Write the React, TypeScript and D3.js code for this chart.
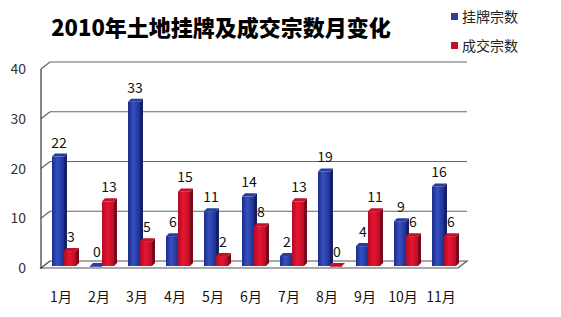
import React from "react";
import * as d3 from "d3";

const months = ["1月", "2月", "3月", "4月", "5月", "6月", "7月", "8月", "9月", "10月", "11月"];
const listed = [22, 0, 33, 6, 11, 14, 2, 19, 4, 9, 16];
const traded = [3, 13, 5, 15, 2, 8, 13, 0, 11, 6, 6];
const yTicks = [0, 10, 20, 30, 40];
const seriesNames = ["挂牌宗数", "成交宗数"];

const W = 561, H = 317;
const DX = 9, DY = 7; // wall depth
const BD = 3; // bar depth

export default function App() {
  const yFront = d3.scaleLinear().domain([0, 40]).range([266, 67]);
  const yBack = d3.scaleLinear().domain([0, 40]).range([261, 62]);
  const x = d3.scaleBand().domain(months).range([45, 45 + 11 * 38]).paddingInner(0).paddingOuter(0);
  const bw = 12;
  const axisX = 41;
  const backRight = 467;
  const font = "'Noto Sans CJK SC', 'Noto Sans', sans-serif";

  const bar = (key: string, xl: number, v: number, grad: string, side: string, top: string) => {
    const y0 = yFront(0);
    const yt = yFront(v);
    const h = y0 - yt;
    return (
      <g key={key}>
        <path d={`M${xl + bw},${y0} L${xl + bw + BD},${y0 - BD} L${xl + bw + BD},${yt - BD} L${xl + bw},${yt} Z`} fill={side} />
        <path d={`M${xl},${yt} L${xl + BD},${yt - BD} L${xl + bw + BD},${yt - BD} L${xl + bw},${yt} Z`} fill={top} />
        <rect x={xl} y={yt} width={bw} height={Math.max(h, 0.8)} fill={`url(#${grad})`} />
      </g>
    );
  };

  return (
    <svg width={W} height={H} style={{ position: "absolute", left: 0, top: 0, background: "#fff" }}>
      <defs>
        <linearGradient id="gb" x1="0" x2="1" y1="0" y2="0">
          <stop offset="0" stopColor="#1c2d8c" />
          <stop offset="0.45" stopColor="#3550c0" />
          <stop offset="1" stopColor="#1e2f90" />
        </linearGradient>
        <linearGradient id="gr" x1="0" x2="1" y1="0" y2="0">
          <stop offset="0" stopColor="#b00c24" />
          <stop offset="0.45" stopColor="#e81432" />
          <stop offset="1" stopColor="#b80d26" />
        </linearGradient>
      </defs>
      <rect width={W} height={H} fill="#fff" />
      <text x={221} y={36} textAnchor="middle" fontFamily={font} fontWeight="900" fontSize={22} fill="#000">
        2010年土地挂牌及成交宗数月变化
      </text>
      {/* legend */}
      <rect x={451} y={13} width={7} height={7} fill="#2e3f9e" />
      <text x={462} y={22} fontFamily={font} fontSize={14} fill="#222">{seriesNames[0]}</text>
      <rect x={451} y={42} width={7} height={7} fill="#c0102a" />
      <text x={462} y={51} fontFamily={font} fontSize={14} fill="#222">{seriesNames[1]}</text>

      {/* grid on back wall */}
      {yTicks.map((t) => (
        <g key={t}>
          <line x1={axisX} y1={yBack(t) + DY} x2={axisX + DX} y2={yBack(t)} stroke="#666" strokeWidth={1.2} />
          {t > 0 && <line x1={axisX + DX} y1={yBack(t)} x2={backRight} y2={yBack(t)} stroke="#666" strokeWidth={1.2} />}
          <text x={26} y={yFront(t) + 7} textAnchor="end" fontFamily={font} fontSize={14} fill="#333">{t}</text>
        </g>
      ))}
      {/* floor */}
      <path d={`M${axisX},${yFront(0) + 2} L${axisX + DX},${yBack(0)} L${backRight},${yBack(0)} L${backRight - DX},${yFront(0) + 2} Z`} fill="#fafafa" stroke="#555" strokeWidth={1.2} />
      {/* left axis */}
      <line x1={axisX} y1={yBack(40) + DY} x2={axisX} y2={yFront(0) + 3} stroke="#444" strokeWidth={1.3} />

      {months.map((m, i) => {
        const c = (x(m) as number) + x.bandwidth() / 2;
        const xb = c - bw;
        const xr = c;
        return (
          <g key={m}>
            {bar("b" + i, xb, listed[i], "gb", "#14206a", "#2a3c9c")}
            {bar("r" + i, xr, traded[i], "gr", "#7a0818", "#c0102a")}
          </g>
        );
      })}
      {months.map((m, i) => {
        const c = (x(m) as number) + x.bandwidth() / 2;
        return (
          <g key={"l" + m} fontFamily={font} fontSize={14} fill="#111" textAnchor="middle">
            <text x={c - bw / 2 + 1} y={yFront(listed[i]) - 9}>{listed[i]}</text>
            <text x={c + bw / 2 + 1} y={yFront(traded[i]) - 9}>{traded[i]}</text>
            <text x={c - 3} y={302} fontSize={14} fill="#111">{m}</text>
          </g>
        );
      })}
    </svg>
  );
}
